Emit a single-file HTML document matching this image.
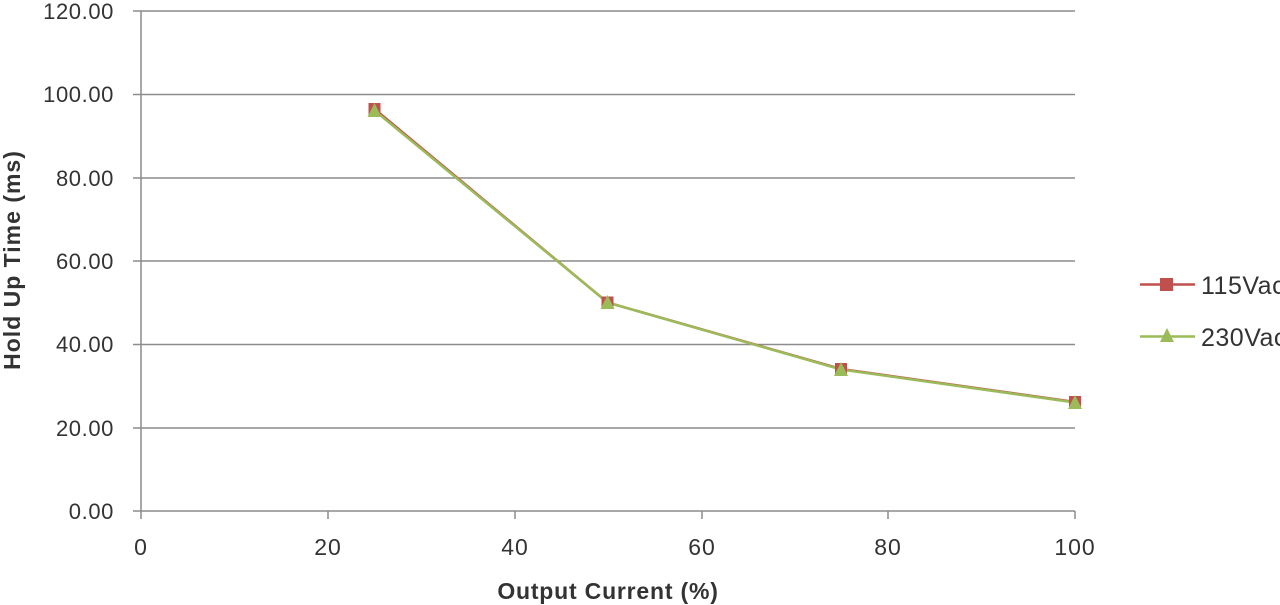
<!DOCTYPE html>
<html><head><style>body{margin:0;background:#fff}svg{display:block}</style></head>
<body>
<svg width="1280" height="605" xmlns="http://www.w3.org/2000/svg" font-family="Liberation Sans, sans-serif">
<g stroke="#8c8c8c" stroke-width="1.5">
<line x1="133" y1="11" x2="1075" y2="11"/>
<line x1="133" y1="94.5" x2="1075" y2="94.5"/>
<line x1="133" y1="178" x2="1075" y2="178"/>
<line x1="133" y1="261" x2="1075" y2="261"/>
<line x1="133" y1="344.5" x2="1075" y2="344.5"/>
<line x1="133" y1="428" x2="1075" y2="428"/>
<line x1="133" y1="511" x2="1075" y2="511"/>
<line x1="141" y1="11" x2="141" y2="519"/>
<line x1="328" y1="511" x2="328" y2="519"/>
<line x1="515" y1="511" x2="515" y2="519"/>
<line x1="702" y1="511" x2="702" y2="519"/>
<line x1="888" y1="511" x2="888" y2="519"/>
<line x1="1075" y1="511" x2="1075" y2="519"/>
</g>
<g font-size="22" fill="#333" text-anchor="end" letter-spacing="0.6">
<text x="114" y="19">120.00</text>
<text x="114" y="102">100.00</text>
<text x="114" y="186">80.00</text>
<text x="114" y="269">60.00</text>
<text x="114" y="352">40.00</text>
<text x="114" y="436">20.00</text>
<text x="114" y="519">0.00</text>
</g>
<g font-size="23" fill="#333" text-anchor="middle" letter-spacing="1">
<text x="141" y="555">0</text><text x="328" y="555">20</text><text x="515" y="555">40</text>
<text x="702" y="555">60</text><text x="888" y="555">80</text><text x="1075" y="555">100</text>
</g>
<text x="608" y="599" font-size="23" font-weight="bold" fill="#333" text-anchor="middle" letter-spacing="0.8">Output Current (%)</text>
<text transform="translate(20,260) rotate(-90)" font-size="23" font-weight="bold" fill="#333" text-anchor="middle" letter-spacing="1">Hold Up Time (ms)</text>
<polyline points="374.5,109 607.5,302.5 841,369 1075,402" fill="none" stroke="#c0504d" stroke-width="2.5"/>
<polyline points="374.5,110.5 607.5,302.5 841,369.5 1075,402.5" fill="none" stroke="#9bbb59" stroke-width="2.5"/>
<g fill="#c0504d">
<rect x="368.5" y="103" width="12" height="12"/><rect x="601.5" y="296.5" width="12" height="12"/>
<rect x="835" y="363" width="12" height="12"/><rect x="1069" y="396" width="12" height="12"/>
</g>
<g fill="#9bbb59">
<polygon points="374.5,103 367.5,117 381.5,117"/><polygon points="607.5,295 600.5,309 614.5,309"/>
<polygon points="841,362 834,376 848,376"/><polygon points="1075,395 1068,409 1082,409"/>
</g>
<line x1="1140" y1="284.5" x2="1195" y2="284.5" stroke="#c0504d" stroke-width="2.5"/>
<rect x="1160" y="278" width="13" height="13" fill="#c0504d"/>
<line x1="1140" y1="336.5" x2="1195" y2="336.5" stroke="#9bbb59" stroke-width="2.5"/>
<polygon points="1167,328 1160,342 1174,342" fill="#9bbb59"/>
<text x="1201" y="294" font-size="25" fill="#333" letter-spacing="0.5">115Vac</text>
<text x="1201" y="346" font-size="25" fill="#333" letter-spacing="0.5">230Vac</text>
</svg>
</body></html>
